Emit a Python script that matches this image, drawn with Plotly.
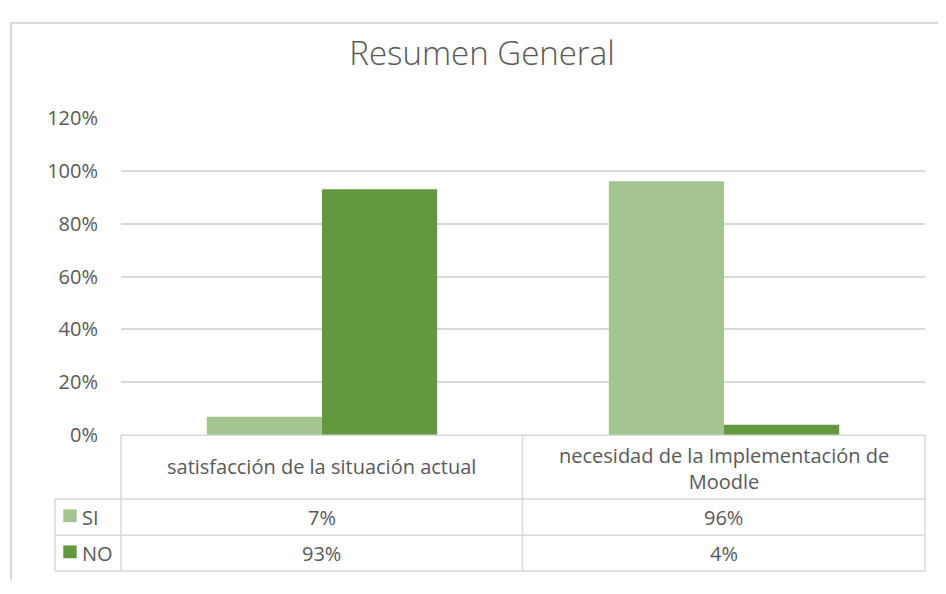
import plotly.graph_objects as go

categories = ["satisfacción de la situación actual", "necesidad de la Implementación de<br>Moodle"]
series_names = ["SI", "NO"]
si_values = [0.07, 0.96]
no_values = [0.93, 0.04]
tick_values = [0, 0.2, 0.4, 0.6, 0.8, 1.0, 1.2]
tick_labels = ["0%", "20%", "40%", "60%", "80%", "100%", "120%"]

# figure sized so that page (with default 8px body margin) fits the 946x594 window
OFF = 8
W, H = 946 - 2 * OFF, 594 - 2 * OFF
SI_COLOR = "#A4C490"
NO_COLOR = "#62993E"
TXT = "#595959"
LINE = "#D9D9D9"
FONT = "Open Sans"

def px(x):
    return (x - OFF) / W

def py(y):
    return 1 - (y - OFF) / H

fig = go.Figure()
fig.add_trace(go.Bar(x=[0, 1], y=si_values, name=series_names[0], marker_color=SI_COLOR, marker_line_width=0))
fig.add_trace(go.Bar(x=[0, 1], y=no_values, name=series_names[1], marker_color=NO_COLOR, marker_line_width=0))

x_left, x_right = 121, 925
y_top, y_zero = 108.5, 441.5

shapes = []
def line(x0, y0, x1, y1, w=1.5):
    shapes.append(dict(type="line", xref="paper", yref="paper", x0=px(x0), y0=py(y0), x1=px(x1), y1=py(y1),
                       line=dict(color=LINE, width=w), layer="above"))

# outer chart border
line(10, 9, 946, 9, 2)
line(11, 8, 11, 594, 2)
# data table
x_mid = 522.5
x_tab = 55
rows = [508.3, 546.3, 584]
line(x_left, y_zero, x_right, y_zero)
for r in rows:
    line(x_tab, r, x_right, r)
line(x_tab, rows[0], x_tab, rows[2])
line(x_left, y_zero, x_left, rows[2])
line(x_mid, y_zero, x_mid, rows[2])
line(x_right, y_zero, x_right, rows[2])

# legend keys
keys = [(SI_COLOR, 526), (NO_COLOR, 563.8)]
for col, yc in keys:
    shapes.append(dict(type="rect", xref="paper", yref="paper", x0=px(63.3), x1=px(76.7), y0=py(yc - 6.7), y1=py(yc + 6.7),
                       fillcolor=col, line=dict(width=0)))

annotations = []
def text(x, y, s, size=20, xanchor="center"):
    annotations.append(dict(x=px(x), y=py(y), xref="paper", yref="paper", text=s, showarrow=False,
                            xanchor=xanchor, yanchor="middle", font=dict(family=FONT, size=size, color=TXT)))

col_centers = [(x_left + x_mid) / 2, (x_mid + x_right) / 2]
text(col_centers[0], 474, categories[0])
text(col_centers[1], 476, categories[1])
for i, (name, vals) in enumerate([(series_names[0], si_values), (series_names[1], no_values)]):
    yc = (rows[i] + rows[i + 1]) / 2
    text(80, yc, name, xanchor="left")
    for j, v in enumerate(vals):
        text(col_centers[j], yc, f"{round(v * 100)}%")

fig.update_layout(
    width=W, height=H,
    margin=dict(l=0, r=0, t=0, b=0),
    paper_bgcolor="white", plot_bgcolor="white",
    showlegend=False,
    barmode="group", bargap=0.427, bargroupgap=0,
    title=dict(text="Resumen General", x=px(482), xanchor="center", y=py(53), yanchor="middle",
               font=dict(family=FONT, size=33, color=TXT, weight=300)),
    xaxis=dict(domain=[px(x_left), px(x_right)], range=[-0.5, 1.5], showticklabels=False,
               showgrid=False, zeroline=False, showline=False, ticks=""),
    yaxis=dict(domain=[py(y_zero), py(y_top)], range=[0, 1.2], tickvals=tick_values, ticktext=tick_labels,
               showgrid=True, gridcolor=LINE, gridwidth=1.5, zeroline=False, showline=False, ticks="",
               ticklabelstandoff=22,
               tickfont=dict(family=FONT, size=20, color=TXT)),
    shapes=shapes,
    annotations=annotations,
)

fig.write_html("out.html")
